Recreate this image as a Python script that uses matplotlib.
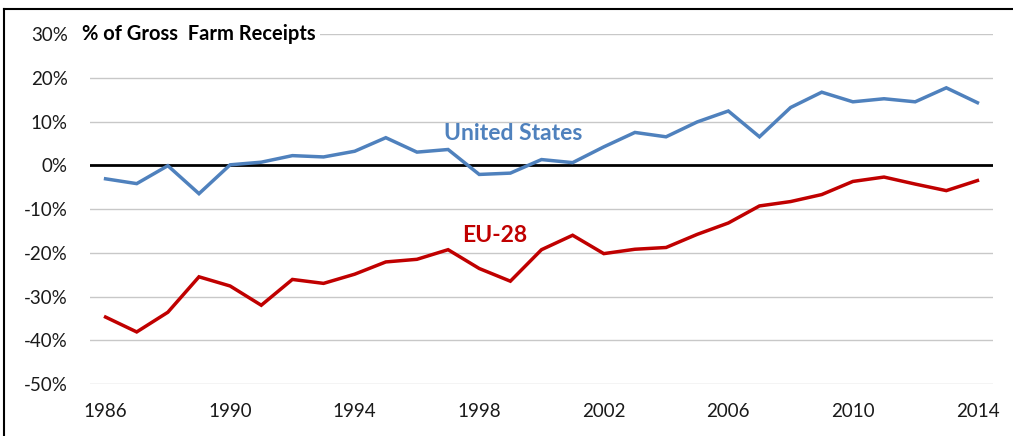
import matplotlib
matplotlib.use("Agg")
import matplotlib.pyplot as plt
from matplotlib.lines import Line2D

# values (% of gross farm receipts)
years = list(range(1986, 2015))
us = [-3.1, -4.2, -0.1, -6.5, 0.1, 0.7, 2.2, 1.9, 3.2, 6.3,
      3.0, 3.6, -2.1, -1.8, 1.3, 0.6, 4.2, 7.5, 6.5, 9.9,
      12.4, 6.5, 13.2, 16.7, 14.5, 15.2, 14.5, 17.7, 14.3]
eu = [-34.7, -38.1, -33.6, -25.5, -27.6, -32.0, -26.1, -27.0, -24.9, -22.1,
      -21.5, -19.3, -23.6, -26.5, -19.3, -16.0, -20.2, -19.2, -18.8, -15.8,
      -13.2, -9.3, -8.3, -6.7, -3.7, -2.7, -4.3, -5.8, -3.5]
x_ticks = [1986, 1990, 1994, 1998, 2002, 2006, 2010, 2014]
y_ticks = [30, 20, 10, 0, -10, -20, -30, -40, -50]

BLUE = "#4F81BD"
RED = "#C00000"
W, H = 1013, 436

plt.rcParams["font.family"] = ["Lato", "DejaVu Sans"]

fig = plt.figure(figsize=(W / 100, H / 100), dpi=100)
ax = fig.add_axes([90 / W, 52 / H, 903 / W, 350 / H])

for y in y_ticks:
    if y != 0:
        ax.axhline(y, color="#C8C8C8", linewidth=1.0, zorder=1)
ax.axhline(0, color="black", linewidth=2.0, zorder=2)

ax.plot(years, us, color=BLUE, linewidth=2.5, zorder=3, solid_joinstyle="miter")
ax.plot(years, eu, color=RED, linewidth=2.5, zorder=3, solid_joinstyle="miter")

ax.set_xlim(1985.5, 2014.5)
ax.set_ylim(-50, 30)
ax.set_xticks(x_ticks)
ax.set_xticklabels([str(y) for y in x_ticks])
ax.set_yticks(y_ticks)
ax.set_yticklabels([f"{y}%" for y in y_ticks])
ax.tick_params(axis="both", length=0, labelsize=13.5, colors="#1a1a1a")
ax.tick_params(axis="x", pad=14)
ax.tick_params(axis="y", pad=16)
for s in ax.spines.values():
    s.set_visible(False)

# unit label sits on the 30% gridline with a white box
fig.text(82 / W, (H - 34) / H, "% of Gross  Farm Receipts", fontsize=14.5,
         fontweight="bold", va="center", ha="left", color="black",
         bbox=dict(facecolor="white", edgecolor="none", pad=3))

ax.text(1999.1, 7.3, "United States", color=BLUE, fontsize=16.5,
        fontweight="bold", ha="center", va="center", zorder=4)
ax.text(1998.5, -16.0, "EU-28", color=RED, fontsize=16.5,
        fontweight="bold", ha="center", va="center", zorder=4)

# frame of the original chart box (top and left edges visible)
fig.add_artist(Line2D([4 / W, 1.0], [(H - 9) / H, (H - 9) / H],
                      transform=fig.transFigure, color="black", linewidth=1.5))
fig.add_artist(Line2D([4 / W, 4 / W], [0, (H - 9) / H],
                      transform=fig.transFigure, color="black", linewidth=1.5))

fig.savefig("out.png", dpi=100)
